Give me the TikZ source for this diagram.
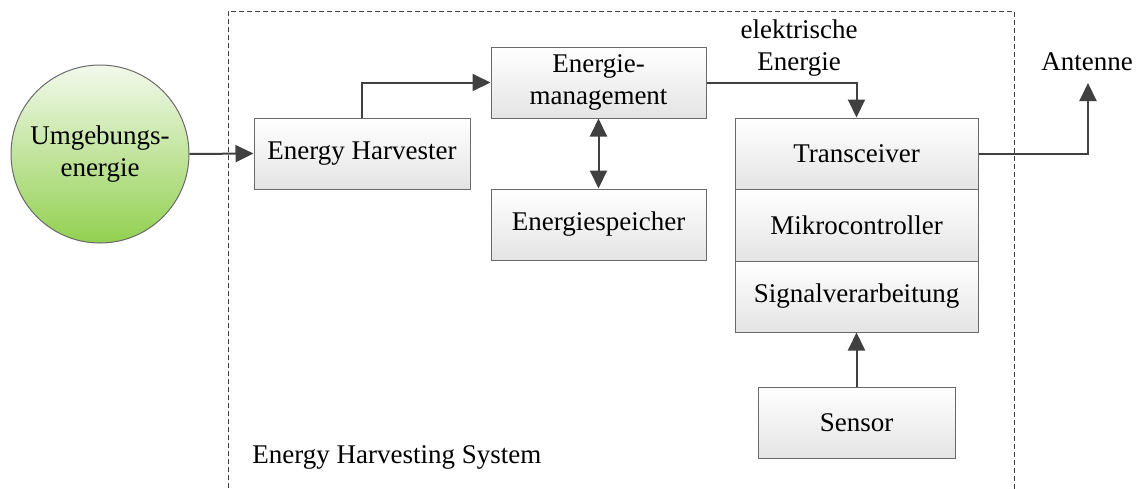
\documentclass[tikz,border=0pt]{standalone}
\usepackage{fontspec}
\setmainfont{Liberation Serif}
\usetikzlibrary{arrows.meta,shadings}
\definecolor{linegray}{HTML}{404040}
\definecolor{boxstroke}{HTML}{6A6A6A}
\definecolor{boxbottom}{HTML}{E4E4E4}
\definecolor{greentop}{HTML}{F2F9EC}
\definecolor{greenbot}{HTML}{92D050}
\tikzset{
  blockbox/.style={draw=boxstroke, line width=0.5pt, top color=white, bottom color=boxbottom,
    inner sep=0pt, align=center, font=\fontsize{13.5pt}{16pt}\selectfont},
  conn/.style={draw=linegray, line width=1pt, -{Triangle[length=9pt,width=8.5pt]}},
  biconn/.style={draw=linegray, line width=1pt, {Triangle[length=9pt,width=8.5pt]}-{Triangle[length=9pt,width=8.5pt]}},
  plainlabel/.style={inner sep=0pt, align=center, font=\fontsize{13.5pt}{16pt}\selectfont},
}
\begin{document}
\begin{tikzpicture}[x=0.5pt,y=-0.5pt]
\useasboundingbox (0,0) rectangle (1136,488);
\begin{scope}
\clip (0,0) rectangle (1136,488);
\draw[linegray, line width=0.5pt, dash pattern=on 2.5pt off 1.5pt] (228,520) -- (228,11) -- (1014,11) -- (1014,520);
\end{scope}
\node[circle, draw=boxstroke, line width=0.5pt, top color=greentop, bottom color=greenbot,
  minimum size=89pt, inner sep=0pt, align=center, font=\fontsize{13.5pt}{16pt}\selectfont]
  (amb) at (100,154) {Umgebungs-\\energie};
\node[blockbox, minimum width=108pt, minimum height=35.5pt] (eh) at (362,153.5) {Energy Harvester};
\node[blockbox, minimum width=107.5pt, minimum height=35.5pt] (em) at (598.5,82.5) {Energie-\\management};
\node[blockbox, minimum width=107.5pt, minimum height=35.5pt] (es) at (598.5,224.5) {Energiespeicher};
\node[blockbox, minimum width=121.5pt, minimum height=35.5pt] (tr) at (856.5,153.5) {Transceiver};
\node[blockbox, minimum width=121.5pt, minimum height=36pt] (mc) at (856.5,225) {Mikrocontroller};
\node[blockbox, minimum width=121.5pt, minimum height=35.5pt] (sv) at (856.5,296.5) {Signalverarbeitung};
\node[blockbox, minimum width=98.5pt, minimum height=35.5pt] (sn) at (856.5,422.5) {Sensor};
\node[plainlabel] (el) at (799,48) {elektrische\\Energie};
\node[plainlabel] (ant) at (1087,62) {Antenne};
\node[plainlabel, anchor=west] (sys) at (252,457) {Energy Harvesting System};
\coordinate (antend) at (1088,83);
\draw[conn] (amb.east) -- (eh.west);
\draw[conn] (eh.north) |- (em.west);
\draw[biconn] (em.south) -- (es.north);
\draw[conn] (em.east) -| (tr.north);
\draw[conn] (sn.north) -- (sv.south);
\draw[conn] (tr.east) -| (antend);
\end{tikzpicture}
\end{document}
